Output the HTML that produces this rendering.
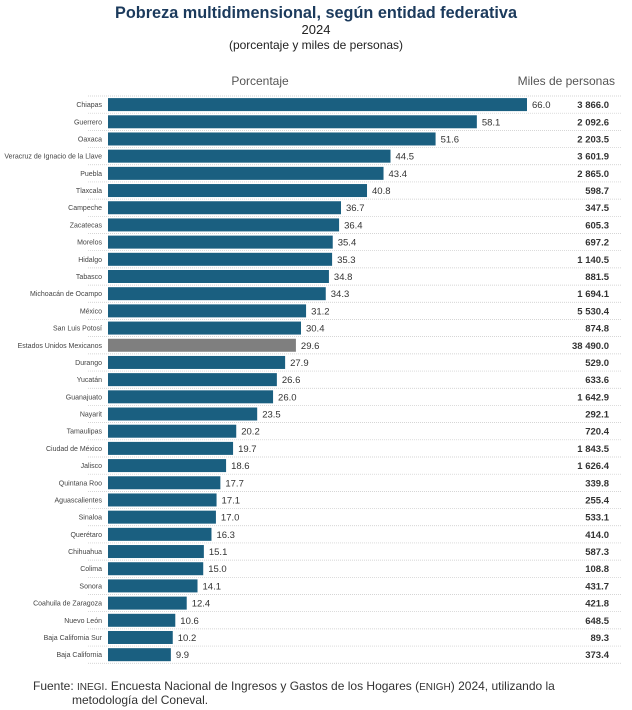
<!DOCTYPE html>
<html><head><meta charset="utf-8"><style>
html,body{margin:0;padding:0;background:#fff;}
svg{display:block;font-family:"Liberation Sans",Arial,sans-serif;}
</style></head><body>
<svg id="chart" width="632" height="710" viewBox="0 0 632 710">
<text x="316" y="18" text-anchor="middle" font-size="17" font-weight="bold" fill="#1b3a5c" textLength="402" lengthAdjust="spacingAndGlyphs">Pobreza multidimensional, según entidad federativa</text>
<text x="316" y="34" text-anchor="middle" font-size="13" fill="#222">2024</text>
<text x="316" y="49" text-anchor="middle" font-size="12" fill="#222">(porcentaje y miles de personas)</text>
<text x="260" y="85" text-anchor="middle" font-size="12" fill="#555">Porcentaje</text>
<text x="615" y="85" text-anchor="end" font-size="12" fill="#555">Miles de personas</text>
<g id="rows"></g>
<text x="33" y="690" font-size="12" fill="#333">Fuente: <tspan font-size="10">INEGI</tspan>. Encuesta Nacional de Ingresos y Gastos de los Hogares (<tspan font-size="10">ENIGH</tspan>) 2024, utilizando la</text>
<text x="72" y="704" font-size="12" fill="#333">metodología del Coneval.</text>
</svg>
<script>
const states = ["Chiapas","Guerrero","Oaxaca","Veracruz de Ignacio de la Llave","Puebla","Tlaxcala","Campeche","Zacatecas","Morelos","Hidalgo","Tabasco","Michoacán de Ocampo","México","San Luis Potosí","Estados Unidos Mexicanos","Durango","Yucatán","Guanajuato","Nayarit","Tamaulipas","Ciudad de México","Jalisco","Quintana Roo","Aguascalientes","Sinaloa","Querétaro","Chihuahua","Colima","Sonora","Coahuila de Zaragoza","Nuevo León","Baja California Sur","Baja California"];
const percents = [66.0,58.1,51.6,44.5,43.4,40.8,36.7,36.4,35.4,35.3,34.8,34.3,31.2,30.4,29.6,27.9,26.6,26.0,23.5,20.2,19.7,18.6,17.7,17.1,17.0,16.3,15.1,15.0,14.1,12.4,10.6,10.2,9.9];
const thousands = ["3 866.0","2 092.6","2 203.5","3 601.9","2 865.0","598.7","347.5","605.3","697.2","1 140.5","881.5","1 694.1","5 530.4","874.8","38 490.0","529.0","633.6","1 642.9","292.1","720.4","1 843.5","1 626.4","339.8","255.4","533.1","414.0","587.3","108.8","431.7","421.8","648.5","89.3","373.4"];
const NS="http://www.w3.org/2000/svg";
const g=document.getElementById('rows');
const x0=108, pxPer=419/66, top0=96.5, pitch=17.19, bh=13;
const xs=v=>x0+v*pxPer;
const yRow=i=>top0+i*pitch;
function mk(t,a){const e=document.createElementNS(NS,t);for(const k in a)e.setAttribute(k,a[k]);return e;}
for(let i=0;i<=states.length;i++){
  const l=mk('line',{x1:88,x2:622,y1:yRow(i)-0.5,y2:yRow(i)-0.5,stroke:'#c8c8c8','stroke-width':0.7,'stroke-dasharray':'1 1'});
  
  
  g.appendChild(l);
}
states.forEach((s,i)=>{
  const yc=yRow(i)+pitch/2-0.5;
  const lab=mk('text',{x:102,y:yc+2.5,'text-anchor':'end','font-size':7,fill:'#444'});
  lab.textContent=s;
  
  
  g.appendChild(lab);
  const r=mk('rect',{x:x0,y:yc-bh/2,width:xs(percents[i])-x0,height:bh,fill:s==="Estados Unidos Mexicanos"?'#7f7f7f':'#1a5f80'});
  
  
  g.appendChild(r);
  const v=mk('text',{x:xs(percents[i])+5,y:yc+3.5,'font-size':9.5,fill:'#333'});
  v.textContent=percents[i].toFixed(1);
  
  
  g.appendChild(v);
  const t=mk('text',{x:609,y:yc+3.5,'text-anchor':'end','font-size':9.5,'font-weight':'bold',fill:'#333'});
  t.textContent=thousands[i];
  
  
  g.appendChild(t);
});
</script>
</body></html>
